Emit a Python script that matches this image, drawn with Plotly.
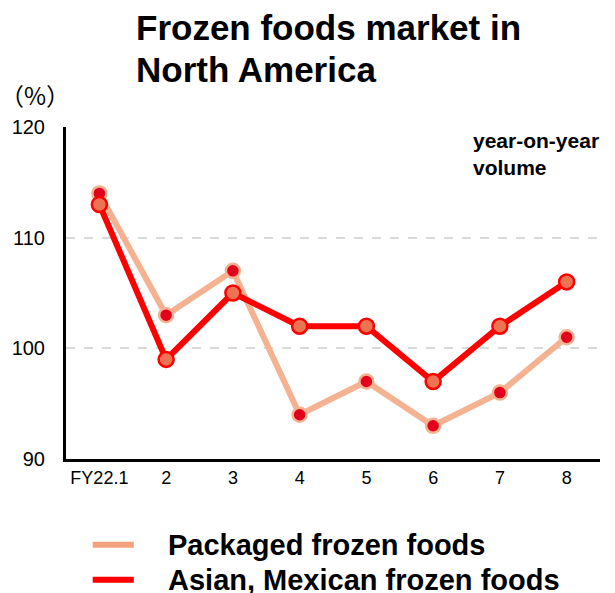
import plotly.graph_objects as go

months = ["FY22.1", "2", "3", "4", "5", "6", "7", "8"]
packaged = [114, 103, 107, 94, 97, 93, 96, 101]
asian_mexican = [113, 99, 105, 102, 102, 97, 102, 106]
series_names = ["Packaged frozen foods", "Asian, Mexican frozen foods"]
y_ticks = [90, 100, 110, 120]
title_lines = ["Frozen foods market in", "North America"]

SALMON = "#F5B291"
SALMON_LEG = "#F4A27E"
RED = "#FF0000"
DARK_RED = "#E2001A"
ORANGE = "#EE7352"
FONT = "Liberation Sans, Arial, sans-serif"

fig = go.Figure()
fig.add_trace(go.Scatter(
    x=months, y=packaged, name=series_names[0], mode="lines+markers",
    line=dict(color=SALMON, width=6),
    marker=dict(size=14, color=DARK_RED, line=dict(color=SALMON, width=2.5)),
    showlegend=False,
))
fig.add_trace(go.Scatter(
    x=months, y=asian_mexican, name=series_names[1], mode="lines+markers",
    line=dict(color=RED, width=6),
    marker=dict(size=15, color=ORANGE, line=dict(color=RED, width=2.5)),
    showlegend=False,
))

# manual legend (paper coords relative to plot area)
leg_colors = [SALMON_LEG, RED]
leg_y = [-0.258, -0.364]
for name, col, yy in zip(series_names, leg_colors, leg_y):
    fig.add_shape(type="line", xref="paper", yref="paper",
                  x0=0.05, x1=0.127, y0=yy, y1=yy,
                  line=dict(color=col, width=6))
    fig.add_annotation(text="<b>%s</b>" % name, xref="paper", yref="paper",
                       x=0.188, y=yy, xanchor="left", yanchor="middle",
                       showarrow=False, font=dict(size=29, color="black", family=FONT))

# title (two lines)
for line, yy in zip(title_lines, [1.30, 1.173]):
    fig.add_annotation(text="<b>%s</b>" % line, xref="paper", yref="paper",
                       x=(131 - 63) / 537, y=yy, xanchor="left", yanchor="middle",
                       showarrow=False, font=dict(size=35, color="black", family=FONT))

fig.add_annotation(text="<b>year-on-year<br>volume</b>", xref="paper", yref="paper",
                   x=0.758, y=1.0, xanchor="left", yanchor="top", align="left",
                   showarrow=False, font=dict(size=21, color="black", family=FONT))
fig.add_annotation(text="（%）", xref="paper", yref="paper",
                   x=-0.128, y=1.098, xanchor="left", yanchor="middle",
                   showarrow=False, font=dict(size=24, color="black", family="Noto Sans CJK JP"))

fig.update_layout(
    width=615, height=593,
    margin=dict(l=63, r=15, t=127, b=134),
    paper_bgcolor="white", plot_bgcolor="white",
    font=dict(family=FONT, color="black"),
)
fig.update_xaxes(
    type="category", range=[-0.5, 7.5],
    showline=True, linecolor="black", linewidth=3,
    showgrid=False, ticks="", tickfont=dict(size=18, color="black"),
)
fig.update_yaxes(
    range=[90, 120], tickvals=y_ticks,
    showline=True, linecolor="black", linewidth=3,
    showgrid=True, gridcolor="#D9D9D9", gridwidth=2, griddash="dash",
    zeroline=False, ticks="", ticklabelstandoff=14,
    tickfont=dict(size=20, color="black"),
)

fig.write_html("out.html")
